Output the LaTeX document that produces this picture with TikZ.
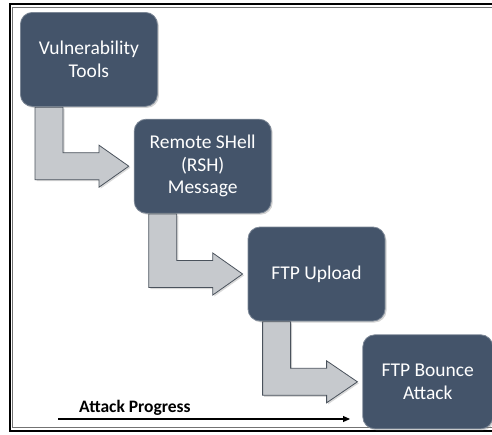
\documentclass[tikz,border=0pt]{standalone}
\usepackage{fontspec}
\setmainfont{Carlito}
\usetikzlibrary{arrows.meta,positioning,shadows,calc}

\definecolor{boxblue}{HTML}{44546A}
\definecolor{boxrim}{HTML}{7C8796}
\definecolor{arrowgray}{HTML}{C6C9CD}
\definecolor{arrowrim}{HTML}{4A525C}

\begin{document}
\begin{tikzpicture}[
    x = 1pt, y = 1pt, % one unit per pixel
    > = {Triangle[length=7pt,width=6pt]}, % arrow head style
    stepbox/.style = {
        draw = boxrim,
        fill = boxblue,
        text = white,
        line width = 0.8pt,
        rounded corners = 12pt,
        minimum width = 137pt,
        minimum height = 94pt,
        align = center,
        font = \fontsize{19.5}{22.5}\selectfont,
        drop shadow = {shadow xshift=1.5pt, shadow yshift=-1.5pt, opacity=0.35}
    },
    bentarrow/.style = {
        draw = arrowrim,
        fill = arrowgray,
        line width = 0.8pt,
        drop shadow = {shadow xshift=1.5pt, shadow yshift=-1.5pt, opacity=0.3}
    }
    ]

    \useasboundingbox (0,0) rectangle (492,-434);
    % frame, right side lies outside the picture
    \draw[line width=2pt] (520,-3.5) -- (9.5,-3.5) -- (9.5,-430.5) -- (520,-430.5);
    \draw[line width=0.6pt, black!55] (520,-7.5) -- (12.5,-7.5) -- (12.5,-427) -- (520,-427);

    \node[stepbox, anchor=north west] (vt) at (20,-12) {Vulnerability\\Tools};
    \node[stepbox] (rsh) [below right=12pt and -24pt of vt] {Remote SHell\\(RSH)\\Message};
    \node[stepbox] (ftp) [below right=13pt and -24pt of rsh] {FTP Upload};
    \node[stepbox, minimum width=130pt] (bounce) [below right=13pt and -23pt of ftp] {FTP Bounce\\Attack};

    % bent block arrows between steps
    \foreach \a/\b in {vt/rsh, rsh/ftp, ftp/bounce}
      \path[bentarrow] let \p1 = (\a.south west), \p2 = (\b.west) in
        (\x1+15pt,\y1-0.4pt) -- (\x1+15pt,\y2-13.5pt) -- (\x1+79pt,\y2-13.5pt)
        -- (\x1+79pt,\y2-21pt) -- (\x2-5pt,\y2) -- (\x1+79pt,\y2+21pt)
        -- (\x1+79pt,\y2+13.5pt) -- (\x1+43pt,\y2+13.5pt) -- (\x1+43pt,\y1-0.4pt) -- cycle;

    % progress line
    \coordinate (ps) at (58,-419);
    \coordinate (pe) at (350,-419);
    \draw[->, line width=1.1pt] (ps) -- (pe);
    \node[anchor=west, inner sep=0pt, font=\fontsize{17.5}{20}\selectfont\bfseries] (prog) at (79,-408) {Attack Progress};
\end{tikzpicture}
\end{document}
